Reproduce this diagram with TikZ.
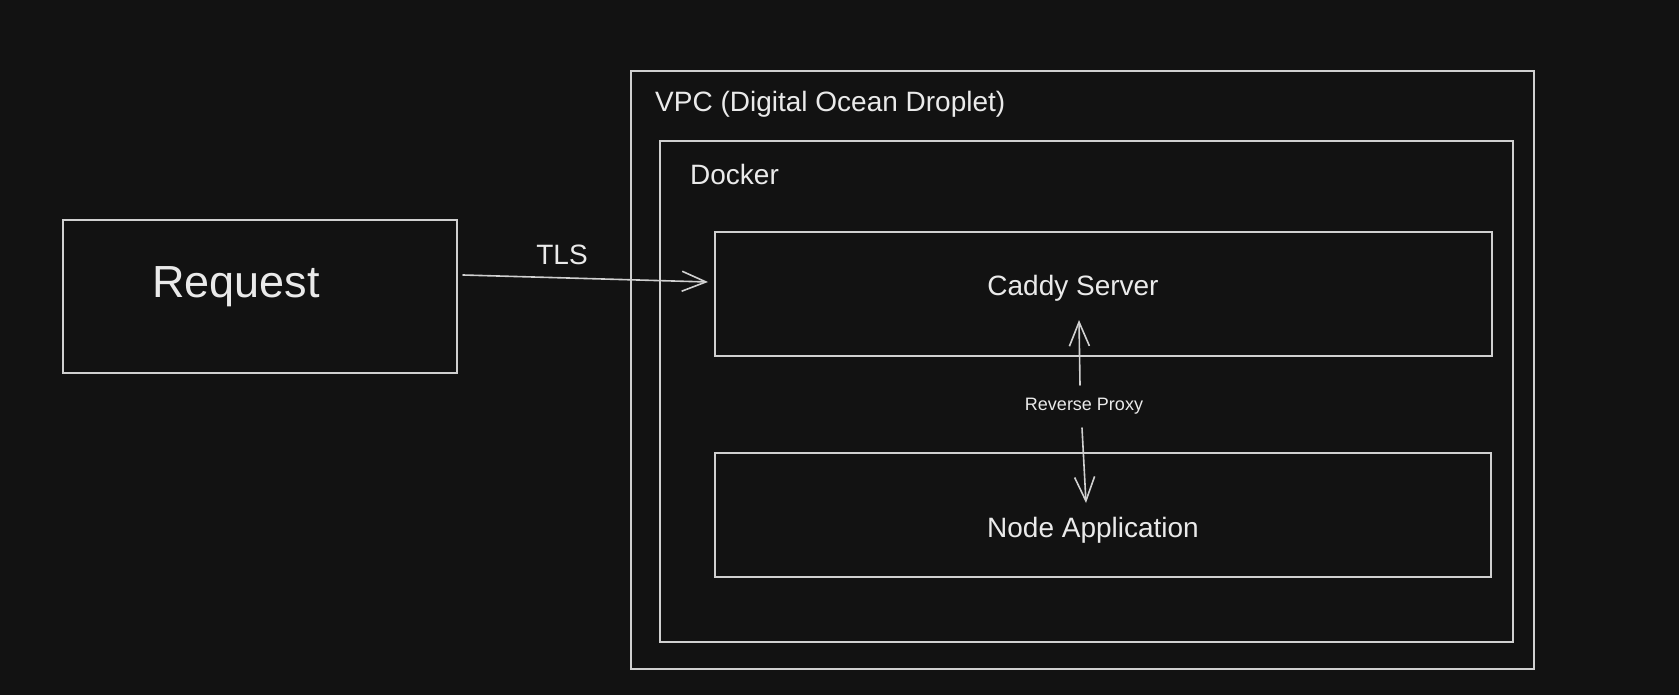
\documentclass[tikz,border=0pt]{standalone}
\usepackage{fontspec}
\setmainfont{Liberation Sans}
\usetikzlibrary{arrows.meta}
\definecolor{bg}{HTML}{121212}
\definecolor{ln}{HTML}{D0D0D0}
\definecolor{tx}{HTML}{EAEAEA}
\begin{document}
\begin{tikzpicture}[x=1pt,y=-1pt,
  box/.style={draw=ln,line width=1.6pt,rectangle,inner sep=0pt,outer sep=0pt},
  lbl/.style={text=tx,inner sep=0pt,anchor=base},
  mid/.style={font=\fontsize{28}{30}\selectfont},
  arr/.style={draw=ln,line width=1.6pt,line cap=round,-{Straight Barb[length=24pt,width=20pt,line width=1.6pt]}}]
\fill[bg] (0,0) rectangle (1679,695);
\useasboundingbox (0,0) rectangle (1679,695);
% boxes
\node[box,minimum width=394pt,minimum height=153pt] (req) at (260,296.5) {};
\node[box,minimum width=903pt,minimum height=598pt] (vpc) at (1082.5,370) {};
\node[box,minimum width=853pt,minimum height=501pt] (docker) at (1086.5,391.5) {};
\node[box,minimum width=777pt,minimum height=124pt] (caddy) at (1103.5,294) {};
\node[box,minimum width=776pt,minimum height=124pt] (nodeapp) at (1103,515) {};
% texts
\node[lbl,font=\fontsize{45}{50}\selectfont] (reqt) at (236,298) {Request};
\node[lbl,mid,anchor=base west] (vpct) at (655,112) {VPC (Digital Ocean Droplet)};
\node[lbl,mid,anchor=base west] (dockert) at (690,185) {Docker};
\node[lbl,mid] (caddyt) at (1073,295) {Caddy Server};
\node[lbl,mid] (nodet) at (1093,537) {Node Application};
\node[lbl,mid] (tls) at (562,265) {TLS};
\node[lbl,font=\fontsize{18}{20}\selectfont] (rp) at (1084,410) {Reverse Proxy};
% connectors
\draw[arr] ([xshift=6pt,yshift=21.5pt]req.east) -- ([xshift=-7pt,yshift=12pt]caddy.west);
\coordinate (upS) at (1080,385);
\coordinate (upE) at (1079,320);
\coordinate (dnS) at (1082,428);
\coordinate (dnE) at (1086,503);
\draw[arr] (upS) -- (upE);
\draw[arr] (dnS) -- (dnE);
\end{tikzpicture}
\end{document}
